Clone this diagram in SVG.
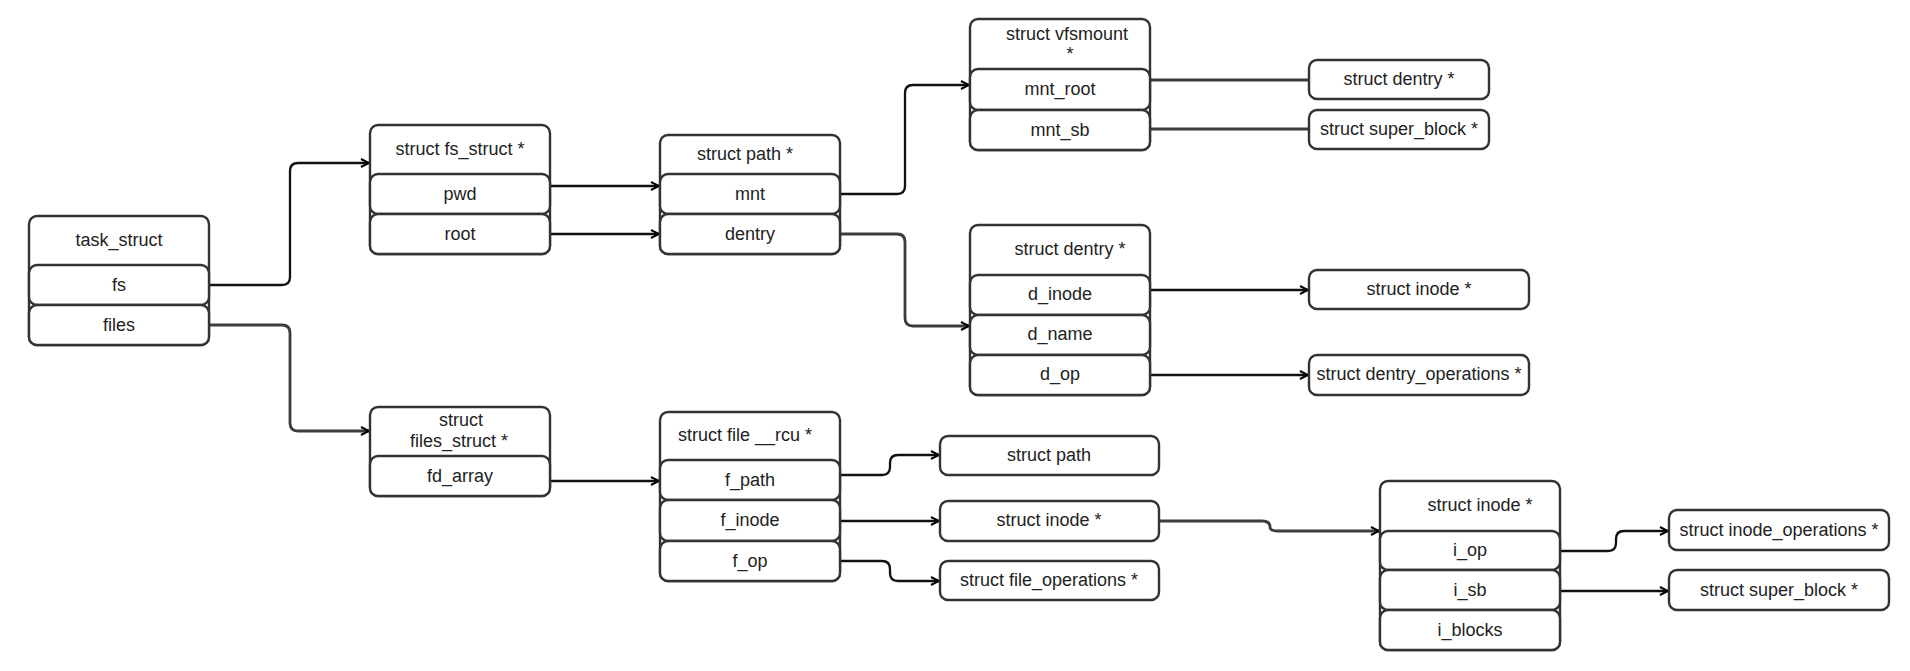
<svg xmlns="http://www.w3.org/2000/svg" width="1910" height="671" viewBox="0 0 1910 671">
<defs>
<marker id="arr" viewBox="0 0 10 10" refX="9" refY="5" markerWidth="10" markerHeight="10" markerUnits="userSpaceOnUse" orient="auto">
<path d="M1,1 L9,5 L1,9" fill="none" stroke="#000" stroke-width="2"/>
</marker>
</defs>
<style>
rect{fill:#fff;stroke:#333;stroke-width:2.4}
text{font-family:"Liberation Sans",Arial,sans-serif;font-size:18px;fill:#222;text-anchor:middle;dominant-baseline:central}
.c{fill:none;stroke:#111;stroke-width:2.3}
.g{fill:none;stroke:#3c3c3c;stroke-width:2.8}
.a{marker-end:url(#arr)}
</style>
<rect x="0" y="0" width="1910" height="671" style="fill:#fff;stroke:none"/>
<g id="connectors">
<path class="c a" d="M209,285 H282 Q290,285 290,277 V171 Q290,163 298,163 H369"/>
<path class="g a" d="M209,325 H282 Q290,325 290,333 V423 Q290,431 298,431 H369"/>
<path class="c a" d="M549,186 H659"/>
<path class="c a" d="M549,234 H659"/>
<path class="c a" d="M839,194 H897 Q905,194 905,186 V93 Q905,85 913,85 H969"/>
<path class="g a" d="M839,234 H897 Q905,234 905,242 V318 Q905,326 913,326 H969"/>
<path class="g" d="M1149,80 H1309"/>
<path class="g" d="M1149,129 H1309"/>
<path class="c a" d="M1149,290 H1308"/>
<path class="c a" d="M1149,375 H1308"/>
<path class="c a" d="M549,481 H659"/>
<path class="c a" d="M839,475 H882 Q890,475 890,467 V463 Q890,455 898,455 H939"/>
<path class="c a" d="M839,521 H939"/>
<path class="c a" d="M839,561 H882 Q890,561 890,569 V573 Q890,581 898,581 H939"/>
<path class="g a" d="M1159,521 H1262 Q1270,521 1270,527 Q1270,531 1278,531 H1379"/>
<path class="c a" d="M1559,551 H1608 Q1616,551 1616,543 V539 Q1616,531 1624,531 H1668"/>
<path class="c a" d="M1559,591 H1668"/>
</g>
<g id="task_struct">
<rect x="29" y="216" width="180" height="129" rx="8"/>
<rect x="29" y="265" width="180" height="40" rx="8"/>
<rect x="29" y="305" width="180" height="40" rx="8"/>
<text x="119" y="240">task_struct</text>
<text x="119" y="285">fs</text>
<text x="119" y="325">files</text>
</g>
<g id="fs_struct">
<rect x="370" y="125" width="180" height="129" rx="8"/>
<rect x="370" y="174" width="180" height="40" rx="8"/>
<rect x="370" y="214" width="180" height="40" rx="8"/>
<text x="460" y="149">struct fs_struct *</text>
<text x="460" y="194">pwd</text>
<text x="460" y="234">root</text>
</g>
<g id="files_struct">
<rect x="370" y="407" width="180" height="89" rx="8"/>
<rect x="370" y="456" width="180" height="40" rx="8"/>
<text x="461" y="420">struct</text>
<text x="459" y="441">files_struct *</text>
<text x="460" y="476">fd_array</text>
</g>
<g id="path">
<rect x="660" y="135" width="180" height="119" rx="8"/>
<rect x="660" y="174" width="180" height="40" rx="8"/>
<rect x="660" y="214" width="180" height="40" rx="8"/>
<text x="745" y="154">struct path *</text>
<text x="750" y="194">mnt</text>
<text x="750" y="234">dentry</text>
</g>
<g id="file">
<rect x="660" y="412" width="180" height="169" rx="8"/>
<rect x="660" y="460" width="180" height="40" rx="8"/>
<rect x="660" y="500" width="180" height="41" rx="8"/>
<rect x="660" y="541" width="180" height="40" rx="8"/>
<text x="745" y="435">struct file __rcu *</text>
<text x="750" y="480">f_path</text>
<text x="750" y="520">f_inode</text>
<text x="750" y="561">f_op</text>
</g>
<g id="vfsmount">
<rect x="970" y="19" width="180" height="131" rx="8"/>
<rect x="970" y="69" width="180" height="41" rx="8"/>
<rect x="970" y="110" width="180" height="40" rx="8"/>
<text x="1067" y="34">struct vfsmount</text>
<text x="1070" y="54">*</text>
<text x="1060" y="89">mnt_root</text>
<text x="1060" y="130">mnt_sb</text>
</g>
<g id="dentry">
<rect x="970" y="225" width="180" height="170" rx="8"/>
<rect x="970" y="275" width="180" height="40" rx="8"/>
<rect x="970" y="315" width="180" height="40" rx="8"/>
<rect x="970" y="355" width="180" height="40" rx="8"/>
<text x="1070" y="249">struct dentry *</text>
<text x="1060" y="294">d_inode</text>
<text x="1060" y="334">d_name</text>
<text x="1060" y="374">d_op</text>
</g>
<g id="dentry_ptr">
<rect x="1309" y="60" width="180" height="39" rx="8"/>
<text x="1399" y="79">struct dentry *</text>
</g>
<g id="super_block_ptr">
<rect x="1309" y="110" width="180" height="39" rx="8"/>
<text x="1399" y="129">struct super_block *</text>
</g>
<g id="inode_ptr">
<rect x="1309" y="270" width="220" height="39" rx="8"/>
<text x="1419" y="289">struct inode *</text>
</g>
<g id="dentry_operations">
<rect x="1309" y="355" width="220" height="40" rx="8"/>
<text x="1419" y="374">struct dentry_operations *</text>
</g>
<g id="struct_path">
<rect x="940" y="436" width="219" height="39" rx="8"/>
<text x="1049" y="455">struct path</text>
</g>
<g id="inode_ptr2">
<rect x="940" y="501" width="219" height="40" rx="8"/>
<text x="1049" y="520">struct inode *</text>
</g>
<g id="file_operations">
<rect x="940" y="561" width="219" height="39" rx="8"/>
<text x="1049" y="580">struct file_operations *</text>
</g>
<g id="inode">
<rect x="1380" y="481" width="180" height="169" rx="8"/>
<rect x="1380" y="531" width="180" height="39" rx="8"/>
<rect x="1380" y="570" width="180" height="40" rx="8"/>
<rect x="1380" y="610" width="180" height="40" rx="8"/>
<text x="1480" y="505">struct inode *</text>
<text x="1470" y="550">i_op</text>
<text x="1470" y="590">i_sb</text>
<text x="1470" y="630">i_blocks</text>
</g>
<g id="inode_operations">
<rect x="1669" y="510" width="220" height="40" rx="8"/>
<text x="1779" y="530">struct inode_operations *</text>
</g>
<g id="super_block_ptr2">
<rect x="1669" y="570" width="220" height="40" rx="8"/>
<text x="1779" y="590">struct super_block *</text>
</g>
</svg>
